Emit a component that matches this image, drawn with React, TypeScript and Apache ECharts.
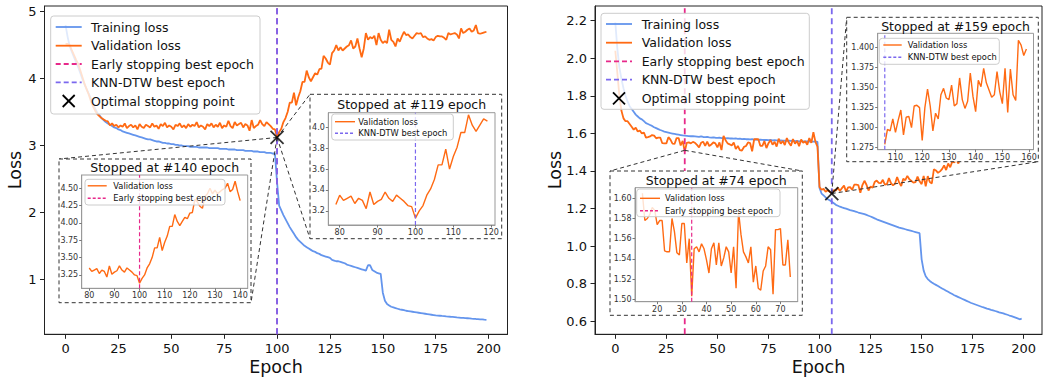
import React, { useEffect, useRef } from 'react';
import * as echarts from 'echarts';

const FONT = 'DejaVu Sans';
const C_TRAIN = '#6495ed';
const C_VAL = '#ff6a13';
const C_EARLY = '#e7298a';
const C_KNN = '#7b68ee';

const epochs = Array.from({ length: 200 }, (_, i) => i);

const leftTrain = [
  4.80, 4.62, 4.48, 4.40, 4.32, 4.24, 4.17, 4.08, 3.99, 3.91,
  3.84, 3.77, 3.70, 3.62, 3.55, 3.49, 3.45, 3.41, 3.38, 3.35,
  3.33, 3.31, 3.29, 3.27, 3.26, 3.24, 3.23, 3.21, 3.20, 3.19,
  3.18, 3.17, 3.16, 3.15, 3.14, 3.13, 3.12, 3.11, 3.10, 3.09,
  3.09, 3.08, 3.07, 3.06, 3.06, 3.05, 3.04, 3.04, 3.03, 3.03,
  3.02, 3.02, 3.01, 3.01, 3.00, 3.00, 2.99, 2.99, 2.99, 2.98,
  2.98, 2.98, 2.98, 2.97, 2.97, 2.97, 2.97, 2.97, 2.96, 2.96,
  2.96, 2.96, 2.96, 2.95, 2.95, 2.95, 2.95, 2.94, 2.94, 2.94,
  2.94, 2.93, 2.93, 2.93, 2.93, 2.92, 2.92, 2.92, 2.92, 2.91,
  2.91, 2.91, 2.90, 2.90, 2.90, 2.89, 2.89, 2.89, 2.88, 2.88,
  2.45, 2.10, 2.03, 1.96, 1.90, 1.84, 1.78, 1.73, 1.68, 1.63,
  1.59, 1.56, 1.53, 1.50, 1.48, 1.46, 1.44, 1.42, 1.41, 1.39,
  1.38, 1.36, 1.35, 1.34, 1.33, 1.32, 1.29, 1.28, 1.27, 1.27,
  1.26, 1.25, 1.24, 1.22, 1.21, 1.20, 1.19, 1.18, 1.17, 1.16,
  1.15, 1.14, 1.13, 1.21, 1.21, 1.14, 1.12, 1.10, 1.09, 1.08,
  0.80, 0.68, 0.63, 0.61, 0.59, 0.58, 0.57, 0.56, 0.55, 0.545,
  0.54, 0.53, 0.525, 0.52, 0.515, 0.51, 0.505, 0.50, 0.495, 0.49,
  0.485, 0.48, 0.475, 0.47, 0.465, 0.46, 0.458, 0.455, 0.452, 0.45,
  0.445, 0.442, 0.44, 0.437, 0.434, 0.43, 0.428, 0.425, 0.423, 0.42,
  0.418, 0.415, 0.412, 0.41, 0.407, 0.405, 0.402, 0.40, 0.397, 0.395,
];

const leftVal = [
  4.52, 4.52, 4.50, 4.42, 4.35, 4.28, 4.22, 4.12, 4.02, 3.92,
  3.84, 3.76, 3.66, 3.58, 3.52, 3.47, 3.44, 3.41, 3.39, 3.37,
  3.36, 3.30, 3.33, 3.29, 3.31, 3.27, 3.30, 3.28, 3.33, 3.26,
  3.29, 3.31, 3.27, 3.30, 3.24, 3.32, 3.28, 3.26, 3.31, 3.29,
  3.27, 3.33, 3.28, 3.30, 3.25, 3.32, 3.29, 3.34, 3.27, 3.30,
  3.28, 3.24, 3.31, 3.29, 3.33, 3.27, 3.30, 3.26, 3.32, 3.28,
  3.31, 3.29, 3.35, 3.27, 3.30, 3.28, 3.24, 3.32, 3.29, 3.33,
  3.27, 3.31, 3.28, 3.34, 3.26, 3.30, 3.28, 3.37, 3.29, 3.26,
  3.35, 3.30, 3.32, 3.34, 3.27, 3.32, 3.30, 3.22, 3.38, 3.26,
  3.29, 3.31, 3.38, 3.32, 3.29, 3.35, 3.32, 3.29, 3.25, 3.24,
  3.13, 3.20, 3.25, 3.35, 3.41, 3.50, 3.64, 3.64, 3.79, 3.60,
  3.72, 3.81, 3.95, 3.95, 4.12, 4.02, 3.96, 4.02, 4.08, 4.06,
  4.14, 4.15, 4.34, 4.30, 4.24, 4.21, 4.38, 4.42, 4.50, 4.42,
  4.47, 4.42, 4.45, 4.48, 4.50, 4.57, 4.45, 4.48, 4.60, 4.45,
  4.32, 4.45, 4.68, 4.58, 4.62, 4.60, 4.64, 4.50, 4.68, 4.58,
  4.53, 4.56, 4.53, 4.73, 4.58, 4.55, 4.48, 4.60, 4.55, 4.63,
  4.70, 4.65, 4.66, 4.62, 4.60, 4.64, 4.68, 4.67, 4.68, 4.62,
  4.63, 4.60, 4.58, 4.59, 4.57, 4.62, 4.64, 4.63, 4.63, 4.61,
  4.58, 4.68, 4.66, 4.67, 4.68, 4.66, 4.60, 4.75, 4.68, 4.70,
  4.73, 4.75, 4.70, 4.72, 4.80, 4.68, 4.67, 4.68, 4.69, 4.70,
];

const rightTrain = [
  2.19, 2.05, 1.95, 1.89, 1.84, 1.80, 1.77, 1.745, 1.73, 1.715,
  1.70, 1.69, 1.68, 1.675, 1.665, 1.655, 1.65, 1.645, 1.64, 1.633,
  1.628, 1.623, 1.618, 1.614, 1.61, 1.607, 1.604, 1.601, 1.599, 1.597,
  1.595, 1.593, 1.591, 1.589, 1.588, 1.587, 1.586, 1.585, 1.585, 1.584,
  1.583, 1.582, 1.584, 1.581, 1.580, 1.581, 1.579, 1.578, 1.579, 1.577,
  1.576, 1.577, 1.575, 1.576, 1.574, 1.575, 1.573, 1.574, 1.572, 1.573,
  1.571, 1.572, 1.570, 1.571, 1.569, 1.570, 1.568, 1.569, 1.567, 1.568,
  1.566, 1.567, 1.566, 1.565, 1.566, 1.564, 1.565, 1.563, 1.564, 1.563,
  1.562, 1.563, 1.561, 1.562, 1.560, 1.561, 1.560, 1.561, 1.559, 1.560,
  1.558, 1.559, 1.558, 1.557, 1.558, 1.556, 1.557, 1.556, 1.557, 1.555,
  1.31, 1.28, 1.27, 1.26, 1.25, 1.244, 1.236, 1.228, 1.22, 1.215,
  1.21, 1.206, 1.203, 1.20, 1.196, 1.192, 1.189, 1.186, 1.183, 1.179,
  1.176, 1.173, 1.17, 1.166, 1.162, 1.158, 1.153, 1.148, 1.143, 1.139,
  1.135, 1.131, 1.127, 1.123, 1.119, 1.115, 1.111, 1.107, 1.103, 1.099,
  1.096, 1.093, 1.09, 1.087, 1.084, 1.081, 1.078, 1.075, 1.072, 1.069,
  0.93, 0.87, 0.84, 0.825, 0.815, 0.807, 0.80, 0.794, 0.788, 0.781,
  0.775, 0.769, 0.763, 0.757, 0.751, 0.745, 0.739, 0.734, 0.729, 0.724,
  0.719, 0.714, 0.709, 0.704, 0.699, 0.695, 0.691, 0.687, 0.683, 0.679,
  0.675, 0.672, 0.668, 0.665, 0.661, 0.658, 0.655, 0.652, 0.648, 0.645,
  0.642, 0.638, 0.635, 0.631, 0.628, 0.624, 0.62, 0.616, 0.611, 0.614,
];

const rightVal = [
  2.04, 1.92, 1.80, 1.72, 1.68, 1.665, 1.665, 1.65, 1.635, 1.62,
  1.63, 1.61, 1.615, 1.60, 1.605, 1.578, 1.580, 1.584, 1.591, 1.588,
  1.574, 1.578, 1.578, 1.548, 1.547, 1.547, 1.580, 1.567, 1.546, 1.544,
  1.575, 1.575, 1.536, 1.560, 1.503, 1.550, 1.552, 1.547, 1.555, 1.550,
  1.539, 1.526, 1.550, 1.556, 1.534, 1.556, 1.533, 1.541, 1.552, 1.547,
  1.526, 1.552, 1.511, 1.587, 1.564, 1.547, 1.542, 1.536, 1.552, 1.517,
  1.533, 1.511, 1.509, 1.528, 1.533, 1.552, 1.549, 1.505, 1.569, 1.569,
  1.570, 1.534, 1.534, 1.559, 1.522, 1.548, 1.565, 1.540, 1.555, 1.530,
  1.572, 1.545, 1.560, 1.538, 1.575, 1.550, 1.535, 1.570, 1.545, 1.560,
  1.532, 1.568, 1.550, 1.558, 1.540, 1.575, 1.550, 1.607, 1.555, 1.530,
  1.315, 1.300, 1.305, 1.290, 1.297, 1.290, 1.279, 1.298, 1.296, 1.311,
  1.294, 1.309, 1.322, 1.291, 1.313, 1.314, 1.300, 1.327, 1.328, 1.325,
  1.284, 1.325, 1.348, 1.327, 1.296, 1.318, 1.311, 1.341, 1.349, 1.337,
  1.335, 1.353, 1.327, 1.330, 1.362, 1.335, 1.324, 1.333, 1.368, 1.339,
  1.320, 1.359, 1.351, 1.374, 1.356, 1.347, 1.338, 1.341, 1.370, 1.345,
  1.330, 1.374, 1.319, 1.373, 1.341, 1.334, 1.409, 1.403, 1.390, 1.398,
  1.410, 1.430, 1.405, 1.440, 1.420, 1.450, 1.445, 1.460, 1.440, 1.470,
  1.455, 1.480, 1.465, 1.490, 1.470, 1.485, 1.500, 1.480, 1.495, 1.510,
  1.490, 1.505, 1.520, 1.500, 1.515, 1.530, 1.510, 1.525, 1.540, 1.520,
  1.535, 1.545, 1.530, 1.550, 1.540, 1.555, 1.545, 1.560, 1.550, 1.565,
];

const xTicksMain = [0, 25, 50, 75, 100, 125, 150, 175, 200];
const leftYTicks = [1, 2, 3, 4, 5];
const rightYTicks = [0.6, 0.8, 1.0, 1.2, 1.4, 1.6, 1.8, 2.0, 2.2];

const X_RANGE = [-9.95, 208.95];
const LEFT_Y = [0.178, 5.085];
const RIGHT_Y = [0.531, 2.278];

const leftEarly = 100;
const leftKnn = 100;
const leftOpt = [100, 3.12];
const rightEarly = 34;
const rightEarlyAnchor = [34, 1.51];
const rightKnn = 106;
const rightOpt = [106, 1.28];

// insets: epochs shown, axis ranges, tick values
const inset1Span = [80, 140];
const inset1X = [77, 143];
const inset1Y = [3.057, 4.69];
const inset1XTicks = [80, 90, 100, 110, 120, 130, 140];
const inset1YTicks = [3.25, 3.5, 3.75, 4.0, 4.25, 4.5];

const inset2Span = [79, 119];
const inset2X = [77, 121];
const inset2Y = [3.064, 4.14];
const inset2XTicks = [80, 90, 100, 110, 120];
const inset2YTicks = [3.2, 3.4, 3.6, 3.8, 4.0];

const inset3Span = [14, 74];
const inset3X = [11, 77];
const inset3Y = [1.4976, 1.6105];
const inset3XTicks = [20, 30, 40, 50, 60, 70];
const inset3YTicks = [1.5, 1.52, 1.54, 1.56, 1.58, 1.6];

const inset4Span = [106, 159];
const inset4X = [103.35, 161.65];
const inset4Y = [1.2725, 1.4177];
const inset4XTicks = [110, 120, 130, 140, 150, 160];
const inset4YTicks = [1.275, 1.3, 1.325, 1.35, 1.375, 1.4];

const pairs = (arr: number[], lo: number, hi: number) =>
  epochs.filter((e) => e >= lo && e <= hi).map((e) => [e, arr[e]]);

const vLine = (e: number, yr: number[]) => [
  [e, yr[0]],
  [e, yr[1]],
];

function lineSeries(xi: number, data: any[], color: string, width: number, z: number, dash?: number[]) {
  return {
    type: 'line',
    xAxisIndex: xi,
    yAxisIndex: xi,
    data,
    showSymbol: false,
    symbol: 'none',
    lineStyle: { color, width, type: dash || 'solid' },
    itemStyle: { color },
    z,
    silent: true,
    animation: false,
  };
}

function mainXAxis(gi: number) {
  return {
    type: 'value',
    gridIndex: gi,
    min: X_RANGE[0],
    max: X_RANGE[1],
    splitLine: { show: false },
    axisLine: { show: true, onZero: false, lineStyle: { color: '#222', width: 1 } },
    axisTick: { show: true, length: 4.5, lineStyle: { color: '#222' }, customValues: xTicksMain },
    axisLabel: { customValues: xTicksMain, fontSize: 13, fontFamily: FONT, color: '#111', margin: 8 },
  };
}

function mainYAxis(gi: number, yr: number[], ticks: number[], dec: number) {
  return {
    type: 'value',
    gridIndex: gi,
    min: yr[0],
    max: yr[1],
    splitLine: { show: false },
    axisLine: { show: true, onZero: false, lineStyle: { color: '#222', width: 1 } },
    axisTick: { show: true, length: 4.5, lineStyle: { color: '#222' }, customValues: ticks },
    axisLabel: {
      customValues: ticks,
      fontSize: 13,
      fontFamily: FONT,
      color: '#111',
      margin: 8,
      formatter: (v: number) => v.toFixed(dec),
    },
  };
}

function insetXAxis(gi: number, xr: number[], ticks: number[]) {
  return {
    type: 'value',
    gridIndex: gi,
    min: xr[0],
    max: xr[1],
    z: 7,
    splitLine: { show: false },
    axisLine: { show: true, onZero: false, lineStyle: { color: '#999', width: 1 } },
    axisTick: { show: true, length: 2.5, lineStyle: { color: '#777' }, customValues: ticks },
    axisLabel: { customValues: ticks, fontSize: 8, fontFamily: FONT, color: '#333', margin: 3.5 },
  };
}

function insetYAxis(gi: number, yr: number[], ticks: number[], dec: number) {
  return {
    type: 'value',
    gridIndex: gi,
    min: yr[0],
    max: yr[1],
    z: 7,
    splitLine: { show: false },
    axisLine: { show: true, onZero: false, lineStyle: { color: '#999', width: 1 } },
    axisTick: { show: true, length: 2.5, lineStyle: { color: '#777' }, customValues: ticks },
    axisLabel: {
      customValues: ticks,
      fontSize: 8,
      fontFamily: FONT,
      color: '#333',
      margin: 3.5,
      formatter: (v: number) => v.toFixed(dec),
    },
  };
}

// ---------- graphic helpers ----------
function gText(x: number, y: number, text: string, size: number, z: number, align = 'left', rotation = 0) {
  return {
    type: 'text',
    x,
    y,
    rotation,
    z,
    silent: true,
    style: { text, fontSize: size, fontFamily: FONT, fill: '#111', align, verticalAlign: 'middle' },
  };
}

function gLine(x1: number, y1: number, x2: number, y2: number, color: string, width: number, z: number, dash?: number[]) {
  return {
    type: 'line',
    z,
    silent: true,
    shape: { x1, y1, x2, y2 },
    style: { stroke: color, lineWidth: width, lineDash: dash || null },
  };
}

type LegItem = { label: string; kind: 'line' | 'dash' | 'x'; color: string };

function legend(
  box: number[],
  rows: number[],
  sample: number[],
  textX: number,
  items: LegItem[],
  fontSize: number,
  lineW: number,
  dash: number[],
  z: number
) {
  const els: any[] = [
    {
      type: 'rect',
      z,
      silent: true,
      shape: { x: box[0], y: box[1], width: box[2], height: box[3], r: 3 },
      style: { fill: 'rgba(255,255,255,0.8)', stroke: '#cccccc', lineWidth: 1 },
    },
  ];
  items.forEach((it, i) => {
    const y = rows[i];
    if (it.kind === 'x') {
      const cx = (sample[0] + sample[1]) / 2;
      els.push(gLine(cx - 6, y - 6, cx + 6, y + 6, it.color, 1.8, z + 1));
      els.push(gLine(cx - 6, y + 6, cx + 6, y - 6, it.color, 1.8, z + 1));
    } else {
      els.push(gLine(sample[0], y, sample[1], y, it.color, lineW, z + 1, it.kind === 'dash' ? dash : undefined));
    }
    els.push(gText(textX, y, it.label, fontSize, z + 1));
  });
  return els;
}

function dashedBox(x: number, y: number, w: number, h: number, z: number) {
  return {
    type: 'rect',
    z,
    silent: true,
    shape: { x, y, width: w, height: h },
    style: { fill: '#ffffff', stroke: '#333', lineWidth: 1, lineDash: [4, 3] },
  };
}

const mainLegendItems: LegItem[] = [
  { label: 'Training loss', kind: 'line', color: C_TRAIN },
  { label: 'Validation loss', kind: 'line', color: C_VAL },
  { label: 'Early stopping best epoch', kind: 'dash', color: C_EARLY },
  { label: 'KNN-DTW best epoch', kind: 'dash', color: C_KNN },
  { label: 'Optimal stopping point', kind: 'x', color: '#000' },
];

const connectorStyle = { type: [4, 3], color: '#333', width: 1 };
const INSET_LEGEND_FONT = 8.3;

function buildOption() {
  const grids = [
    { left: 44.5, top: 6, width: 463, height: 328.3, show: true, borderColor: '#222', borderWidth: 1, backgroundColor: 'transparent', z: 0 },
    { left: 595, top: 6, width: 447, height: 328.3, show: true, borderColor: '#222', borderWidth: 1, backgroundColor: 'transparent', z: 0 },
    { left: 81.7, top: 175, width: 166, height: 113.3, show: true, borderColor: '#999', borderWidth: 1, backgroundColor: '#fff', z: 7 },
    { left: 328.3, top: 112.7, width: 166.7, height: 112.3, show: true, borderColor: '#999', borderWidth: 1, backgroundColor: '#fff', z: 7 },
    { left: 635, top: 187.7, width: 162.7, height: 114, show: true, borderColor: '#999', borderWidth: 1, backgroundColor: '#fff', z: 7 },
    { left: 877.7, top: 33.3, width: 155.8, height: 116.4, show: true, borderColor: '#999', borderWidth: 1, backgroundColor: '#fff', z: 7 },
  ];

  const xAxis = [
    mainXAxis(0),
    mainXAxis(1),
    insetXAxis(2, inset1X, inset1XTicks),
    insetXAxis(3, inset2X, inset2XTicks),
    insetXAxis(4, inset3X, inset3XTicks),
    insetXAxis(5, inset4X, inset4XTicks),
  ];
  const yAxis = [
    mainYAxis(0, LEFT_Y, leftYTicks, 0),
    mainYAxis(1, RIGHT_Y, rightYTicks, 1),
    insetYAxis(2, inset1Y, inset1YTicks, 2),
    insetYAxis(3, inset2Y, inset2YTicks, 1),
    insetYAxis(4, inset3Y, inset3YTicks, 2),
    insetYAxis(5, inset4Y, inset4YTicks, 3),
  ];

  const xMarker = 'path://M0,0 L10,10 M10,0 L0,10';
  const scatter = (xi: number, pt: number[], connectors: any[]) => ({
    type: 'scatter',
    xAxisIndex: xi,
    yAxisIndex: xi,
    data: [pt],
    symbol: xMarker,
    symbolSize: 13,
    itemStyle: { color: 'rgba(0,0,0,0)', borderColor: '#000', borderWidth: 1.8 },
    z: 5,
    silent: true,
    animation: false,
    markLine: {
      silent: true,
      animation: false,
      symbol: ['none', 'none'],
      label: { show: false },
      lineStyle: connectorStyle,
      z: 4,
      data: connectors,
    },
  });

  const series: any[] = [
    // left main
    lineSeries(0, pairs(leftTrain, 0, 199), C_TRAIN, 1.8, 2),
    lineSeries(0, pairs(leftVal, 0, 199), C_VAL, 1.8, 2),
    lineSeries(0, vLine(leftEarly, LEFT_Y), C_EARLY, 1.8, 3, [6, 4]),
    lineSeries(0, vLine(leftKnn, LEFT_Y), C_KNN, 1.8, 3, [6, 4]),
    scatter(0, leftOpt, [
      [{ coord: leftOpt }, { x: 59, y: 159 }],
      [{ coord: leftOpt }, { x: 251, y: 302.7 }],
      [{ coord: leftOpt }, { x: 310, y: 94.3 }],
      [{ coord: leftOpt }, { x: 310, y: 238.7 }],
    ]),
    // right main
    lineSeries(1, pairs(rightTrain, 0, 199), C_TRAIN, 1.8, 2),
    lineSeries(1, pairs(rightVal, 0, 199), C_VAL, 1.8, 2),
    lineSeries(1, vLine(rightEarly, RIGHT_Y), C_EARLY, 1.8, 3, [6, 4]),
    lineSeries(1, vLine(rightKnn, RIGHT_Y), C_KNN, 1.8, 3, [6, 4]),
    scatter(1, rightOpt, [
      [{ coord: rightEarlyAnchor }, { x: 610, y: 171 }],
      [{ coord: rightEarlyAnchor }, { x: 802.3, y: 171 }],
      [{ coord: rightOpt }, { x: 846.7, y: 17.3 }],
      [{ coord: rightOpt }, { x: 1038.3, y: 161.7 }],
    ]),
    // insets
    lineSeries(2, pairs(leftVal, inset1Span[0], inset1Span[1]), C_VAL, 1.4, 8),
    lineSeries(2, vLine(leftEarly, inset1Y), C_EARLY, 1.2, 9, [4, 2.5]),
    lineSeries(3, pairs(leftVal, inset2Span[0], inset2Span[1]), C_VAL, 1.4, 8),
    lineSeries(3, vLine(leftKnn, inset2Y), C_KNN, 1.2, 9, [4, 2.5]),
    lineSeries(4, pairs(rightVal, inset3Span[0], inset3Span[1]), C_VAL, 1.4, 8),
    lineSeries(4, vLine(rightEarly, inset3Y), C_EARLY, 1.2, 9, [4, 2.5]),
    lineSeries(5, pairs(rightVal, inset4Span[0], inset4Span[1]), C_VAL, 1.4, 8),
    lineSeries(5, vLine(rightKnn, inset4Y), C_KNN, 1.2, 9, [4, 2.5]),
  ];

  const elements: any[] = [
    // axis names
    gText(14.5, 170, 'Loss', 17.5, 1, 'center', Math.PI / 2),
    gText(555, 170, 'Loss', 17.5, 1, 'center', Math.PI / 2),
    gText(276, 367, 'Epoch', 17.5, 1, 'center'),
    gText(818.5, 367, 'Epoch', 17.5, 1, 'center'),
    // main legends
    ...legend([50.7, 16, 209.3, 98], [27, 45.7, 64, 82.3, 101], [55.7, 81.7], 91, mainLegendItems, 12.5, 1.8, [5, 3], 5),
    ...legend([601, 13.3, 208.3, 96], [24, 42.7, 61.3, 79.7, 98.3], [606, 632], 641.7, mainLegendItems, 12.5, 1.8, [5, 3], 5),
    // inset boxes
    dashedBox(59, 159, 192, 143.7, 6),
    dashedBox(310, 94.3, 191.7, 144.4, 6),
    dashedBox(610, 171, 192.3, 144.3, 6),
    dashedBox(846.7, 17.3, 191.6, 144.4, 6),
    // inset titles
    gText(164.7, 167.3, 'Stopped at #140 epoch', 12.5, 10, 'center'),
    gText(411.7, 104, 'Stopped at #119 epoch', 12.5, 10, 'center'),
    gText(716.3, 180.7, 'Stopped at #74 epoch', 12.5, 10, 'center'),
    gText(955.6, 26, 'Stopped at #159 epoch', 12.5, 10, 'center'),
    // inset legends
    ...legend([85, 179.3, 140, 25.7], [185.8, 198.3], [87.7, 106.7], 113.3,
      [{ label: 'Validation loss', kind: 'line', color: C_VAL }, { label: 'Early stopping best epoch', kind: 'dash', color: C_EARLY }],
      INSET_LEGEND_FONT, 1.4, [3, 2], 10),
    ...legend([331.7, 114, 121.6, 26], [121.7, 133.3], [335, 355], 358.3,
      [{ label: 'Validation loss', kind: 'line', color: C_VAL }, { label: 'KNN-DTW best epoch', kind: 'dash', color: C_KNN }],
      INSET_LEGEND_FONT, 1.4, [3, 2], 10),
    ...legend([636.7, 189, 143.3, 27.7], [198.3, 210.7], [640, 660], 665,
      [{ label: 'Validation loss', kind: 'line', color: C_VAL }, { label: 'Early stopping best epoch', kind: 'dash', color: C_EARLY }],
      INSET_LEGEND_FONT, 1.4, [3, 2], 10),
    ...legend([879.3, 38.3, 120, 26], [45, 57.3], [883.3, 901.7], 907.7,
      [{ label: 'Validation loss', kind: 'line', color: C_VAL }, { label: 'KNN-DTW best epoch', kind: 'dash', color: C_KNN }],
      INSET_LEGEND_FONT, 1.4, [3, 2], 10),
  ];

  return {
    animation: false,
    backgroundColor: '#ffffff',
    textStyle: { fontFamily: FONT },
    grid: grids,
    xAxis,
    yAxis,
    series,
    graphic: { elements },
  };
}

export default function App() {
  const ref = useRef<HTMLDivElement>(null);
  useEffect(() => {
    if (!ref.current) return;
    const chart = echarts.init(ref.current, null, { renderer: 'svg' });
    chart.setOption(buildOption() as any);
    return () => chart.dispose();
  }, []);
  return (
    <div
      ref={ref}
      style={{ position: 'absolute', left: 0, top: 0, width: 1055, height: 379, background: '#fff' }}
    />
  );
}
